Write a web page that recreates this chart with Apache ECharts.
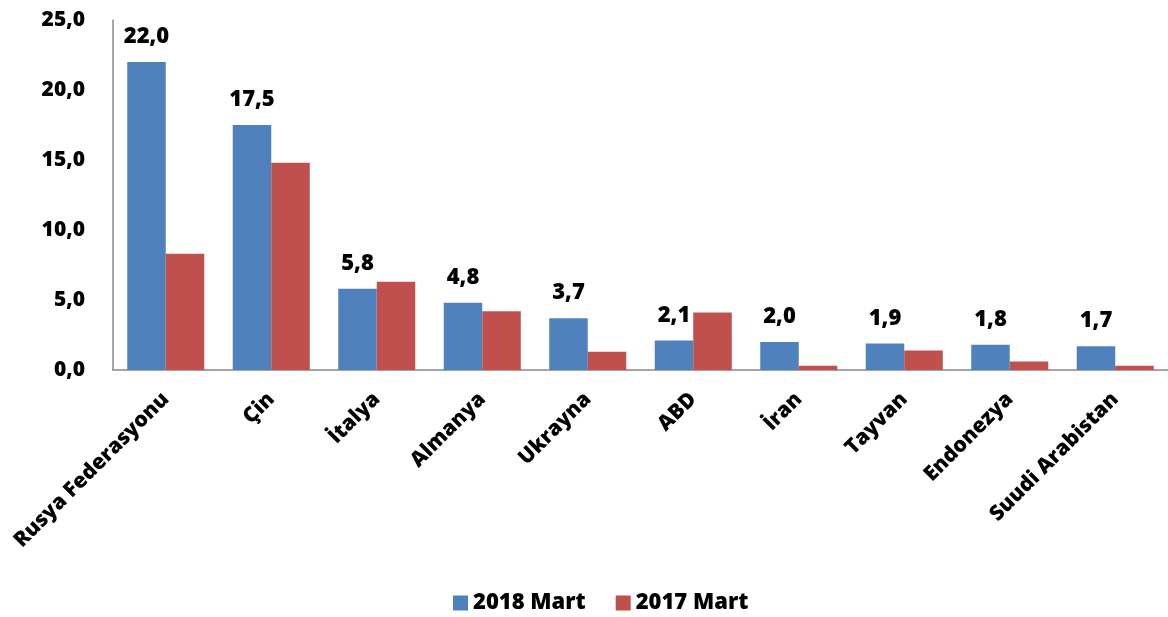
<!DOCTYPE html>
<html>
<head>
<meta charset="utf-8">
<script src="https://cdn.jsdelivr.net/npm/echarts@6/dist/echarts.min.js"></script>
<style>html,body{margin:0;padding:0;background:#fff;}#c{width:1168px;height:617px;}</style>
</head>
<body>
<div id="c"></div>
<script>
const categories = ['Rusya Federasyonu','Çin','İtalya','Almanya','Ukrayna','ABD','İran','Tayvan','Endonezya','Suudi Arabistan'];
const s2018 = [22.0,17.5,5.8,4.8,3.7,2.1,2.0,1.9,1.8,1.7];
const s2017 = [8.3,14.8,6.3,4.2,1.3,4.1,0.3,1.4,0.6,0.3];
const seriesNames = ['2018 Mart','2017 Mart'];
const yTicks = {min:0,max:25,interval:5};

const FONT = '"Open Sans", "Liberation Sans", sans-serif';
const fmt = v => Number(v).toFixed(1).replace('.', ',');
const chart = echarts.init(document.getElementById('c'), null, {renderer:'canvas'});
chart.setOption({
  animation:false,
  textStyle:{fontFamily:FONT},
  grid:{left:113,right:0,top:20,bottom:247,containLabel:false},
  legend:{
    bottom:-2,left:448,itemWidth:15,itemHeight:15,itemGap:30,
    icon:'rect',
    textStyle:{fontFamily:FONT,fontWeight:800,fontSize:22,color:'#000'},
    data:seriesNames
  },
  xAxis:{
    type:'category',data:categories,
    axisLine:{lineStyle:{color:'#888',width:1.5}},
    axisTick:{show:false},
    axisLabel:{rotate:45,interval:0,margin:26,fontFamily:FONT,fontWeight:800,fontSize:21,color:'#000'}
  },
  yAxis:{
    type:'value',min:yTicks.min,max:yTicks.max,interval:yTicks.interval,
    axisLine:{show:true,lineStyle:{color:'#888',width:1.5}},
    axisTick:{show:false},
    splitLine:{show:false},
    axisLabel:{formatter:fmt,margin:28,fontFamily:FONT,fontWeight:800,fontSize:21,color:'#000'}
  },
  series:[
    {name:seriesNames[0],type:'bar',data:s2018,barGap:'0%',barCategoryGap:'27%',
     itemStyle:{color:'#4F81BD'},
     label:{show:true,position:'top',distance:14,formatter:p=>fmt(p.value),fontFamily:FONT,fontWeight:800,fontSize:22,color:'#000'}},
    {name:seriesNames[1],type:'bar',data:s2017,barGap:'0%',barCategoryGap:'27%',
     itemStyle:{color:'#C0504D'}}
  ]
});
</script>
</body>
</html>
